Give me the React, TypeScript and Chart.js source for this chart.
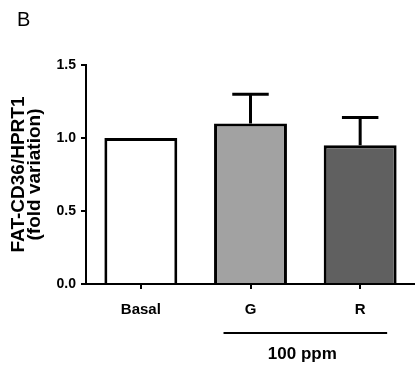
import React, { useEffect, useRef } from "react";
import { Chart, registerables } from "chart.js";

Chart.register(...registerables);

const categories = ["Basal", "G", "R"];
const means = [1.0, 1.1, 0.95];
const errors = [0, 0.2, 0.19];
const yTicks = [0, 0.5, 1.0, 1.5];
const barColors = ["#ffffff", "#a2a2a2", "#606060"];
const panelLabel = "B";
const groupLabel = "100 ppm";
const groupMembers = ["G", "R"];
const yTitle = ["FAT-CD36/HPRT1", "(fold variation)"];

const FONT = "'Liberation Sans', Arial, Helvetica, sans-serif";

const annotatePlugin = {
  id: "annotate",
  afterDatasetsDraw(chart: any) {
    const ctx = chart.ctx;
    const meta = chart.getDatasetMeta(0);
    const ys = chart.scales.y;
    ctx.save();
    ctx.strokeStyle = "#000";
    ctx.lineWidth = 3;
    meta.data.forEach((bar: any, i: number) => {
      const e = errors[i];
      if (!e) return;
      const x = bar.x;
      const top = ys.getPixelForValue(means[i]);
      const yTop = ys.getPixelForValue(means[i] + e);
      const half = bar.width / 4;
      ctx.beginPath();
      ctx.moveTo(x, top);
      ctx.lineTo(x, yTop);
      ctx.moveTo(x - half, yTop);
      ctx.lineTo(x + half, yTop);
      ctx.stroke();
    });
    ctx.restore();
  },
  afterDraw(chart: any) {
    const ctx = chart.ctx;
    const xs = chart.scales.x;
    const meta = chart.getDatasetMeta(0);
    const bw = meta.data[0].width;
    const area = chart.chartArea;
    ctx.save();
    // panel letter
    ctx.fillStyle = "#000";
    ctx.font = `20px ${FONT}`;
    ctx.textAlign = "left";
    ctx.textBaseline = "alphabetic";
    ctx.fillText(panelLabel, 17, 26);
    // group line
    const x1 = xs.getPixelForValue(categories.indexOf(groupMembers[0])) - bw * 0.37;
    const x2 = xs.getPixelForValue(categories.indexOf(groupMembers[groupMembers.length - 1])) + bw * 0.37;
    const ly = area.bottom + 49;
    ctx.strokeStyle = "#000";
    ctx.lineWidth = 2;
    ctx.beginPath();
    ctx.moveTo(x1, ly);
    ctx.lineTo(x2, ly);
    ctx.stroke();
    ctx.font = `bold 17px ${FONT}`;
    ctx.textAlign = "center";
    ctx.textBaseline = "middle";
    ctx.fillText(groupLabel, (x1 + x2) / 2 - 3, ly + 21);
    ctx.restore();
  },
};

export default function App() {
  const ref = useRef<HTMLCanvasElement | null>(null);
  useEffect(() => {
    if (!ref.current) return;
    const chart = new Chart(ref.current, {
      type: "bar",
      data: {
        labels: categories,
        datasets: [
          {
            data: means,
            backgroundColor: barColors,
            borderColor: "#000",
            borderWidth: 3,
            barPercentage: 0.665,
            categoryPercentage: 1,
          },
        ],
      },
      options: {
        animation: false,
        responsive: false,
        layout: { padding: { top: 65, left: 0, right: 0, bottom: 0 } },
        plugins: { legend: { display: false }, tooltip: { enabled: false } },
        scales: {
          x: {
            offset: true,
            grid: {
              display: true,
              offset: false,
              drawOnChartArea: false,
              drawTicks: true,
              tickLength: 5,
              color: "#000",
              lineWidth: 2,
            },
            border: { display: true, color: "#000", width: 2 },
            ticks: {
              color: "#000",
              font: { family: FONT, size: 15, weight: "bold" },
              padding: 12,
            },
            afterFit: (s: any) => {
              s.height = 82;
            },
          },
          y: {
            min: 0,
            max: 1.5,
            afterBuildTicks: (s: any) => {
              s.ticks = yTicks.map((v) => ({ value: v }));
            },
            grid: {
              display: true,
              drawOnChartArea: false,
              drawTicks: true,
              tickLength: 5,
              color: "#000",
              lineWidth: 2,
            },
            border: { display: true, color: "#000", width: 2 },
            ticks: {
              color: "#000",
              font: { family: FONT, size: 14, weight: "bold" },
              padding: 5,
              callback: (v: any) => Number(v).toFixed(1),
            },
            title: {
              display: true,
              text: yTitle,
              color: "#000",
              font: { family: FONT, size: 19, weight: "bold", lineHeight: 0.88 },
              padding: { top: 10, bottom: 0 },
            },
            afterFit: (s: any) => {
              s.width = 86;
            },
          },
        },
      },
      plugins: [annotatePlugin],
    });
    return () => chart.destroy();
  }, []);
  return (
    <div style={{ position: "absolute", left: 0, top: 0, width: 415, height: 366, background: "#fff" }}>
      <canvas ref={ref} width={415} height={366} style={{ display: "block" }} />
    </div>
  );
}
